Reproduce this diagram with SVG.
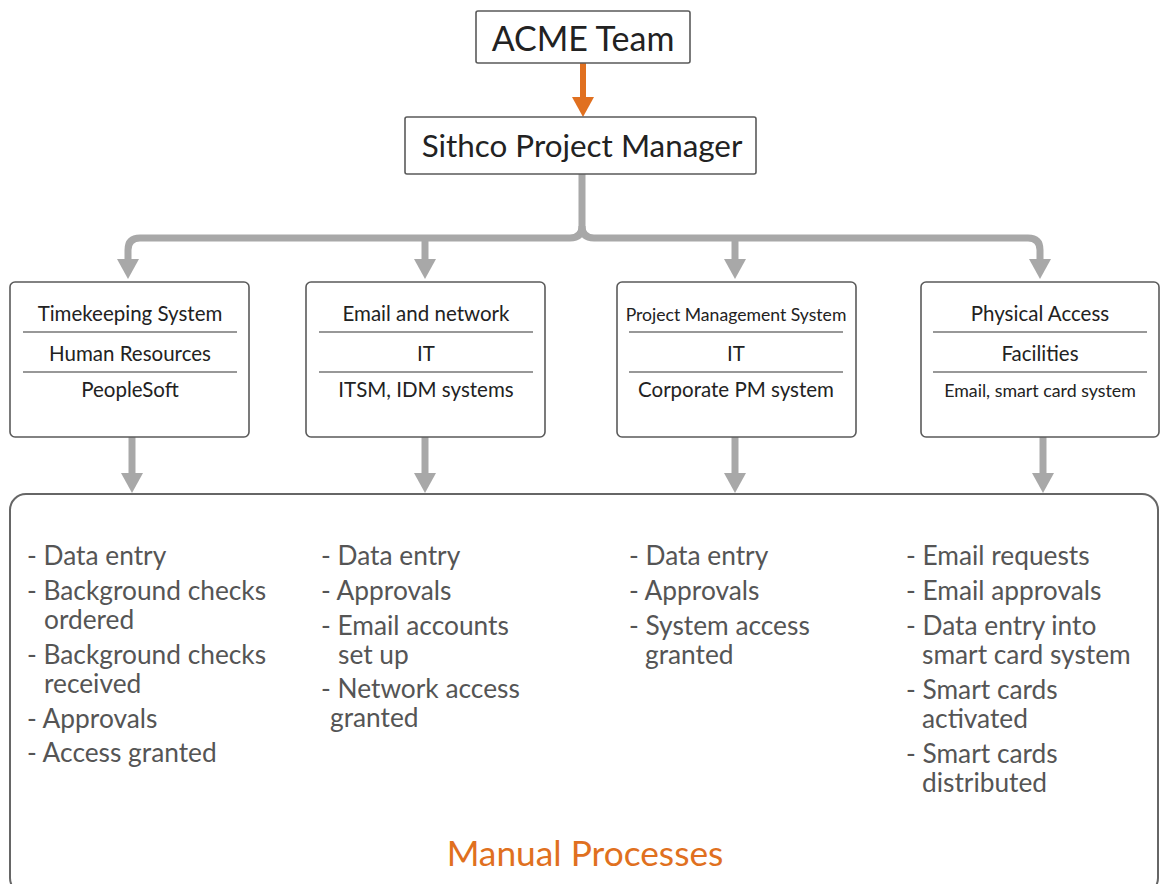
<svg xmlns="http://www.w3.org/2000/svg" width="1160" height="884" viewBox="0 0 1160 884">
<defs>
<style>
.box{fill:#fff;stroke:#5a5a5a;stroke-width:1.6}
.t{font-family:Lato,"Open Sans",sans-serif;fill:#222;text-anchor:middle}
.sep{stroke:#333;stroke-width:1.2}
.gray{fill:none;stroke:#a8a8a8;stroke-width:7}
.li{font-family:Lato,"Open Sans",sans-serif;fill:#555;font-size:26.3px}
</style>
<marker id="ga" viewBox="0 0 20 22" markerUnits="userSpaceOnUse" markerWidth="20" markerHeight="22" refX="0" refY="11" orient="auto"><path d="M0,0 L20,11 L0,22 z" fill="#a8a8a8"/></marker>
<marker id="oa" viewBox="0 0 20 22" markerUnits="userSpaceOnUse" markerWidth="20" markerHeight="22" refX="0" refY="11" orient="auto"><path d="M0,0 L20,11 L0,22 z" fill="#e07020"/></marker>
</defs>
<rect width="1160" height="884" fill="#fff"/>

<g id="connectors">
<line x1="583" y1="63" x2="583" y2="97" stroke="#e07020" stroke-width="6" marker-end="url(#oa)"/>
<path class="gray" d="M582,174 V226 Q582,238 570,238 H140 Q128,238 128,250 V259" marker-end="url(#ga)"/>
<path class="gray" d="M582,226 Q582,238 594,238 H1028 Q1040,238 1040,250 V259" marker-end="url(#ga)"/>
<path class="gray" d="M425,238 V259" marker-end="url(#ga)"/>
<path class="gray" d="M735,238 V259" marker-end="url(#ga)"/>
<path class="gray" d="M132,437 V473" marker-end="url(#ga)"/>
<path class="gray" d="M425,437 V473" marker-end="url(#ga)"/>
<path class="gray" d="M735,437 V473" marker-end="url(#ga)"/>
<path class="gray" d="M1043,437 V473" marker-end="url(#ga)"/>
</g>

<g id="acme">
<rect class="box" x="476" y="11" width="214" height="52" rx="2"/>
<text class="t" x="583" y="51" font-size="34">ACME Team</text>
</g>

<g id="sithco">
<rect class="box" x="405" y="117" width="351" height="57" rx="2"/>
<text class="t" x="582" y="157" font-size="31.4">Sithco Project Manager</text>
</g>

<g id="timekeeping">
<rect class="box" x="10" y="282" width="239" height="155" rx="5"/>
<text class="t" x="130" y="321" font-size="20.5">Timekeeping System</text>
<line class="sep" x1="23" y1="332" x2="237" y2="332"/>
<text class="t" x="130" y="361" font-size="20.5">Human Resources</text>
<line class="sep" x1="23" y1="372" x2="237" y2="372"/>
<text class="t" x="130" y="397" font-size="20.5">PeopleSoft</text>
</g>

<g id="email">
<rect class="box" x="306" y="282" width="239" height="155" rx="5"/>
<text class="t" x="426" y="321" font-size="20.5">Email and network</text>
<line class="sep" x1="319" y1="332" x2="533" y2="332"/>
<text class="t" x="426" y="361" font-size="20.5">IT</text>
<line class="sep" x1="319" y1="372" x2="533" y2="372"/>
<text class="t" x="426" y="397" font-size="20.5">ITSM, IDM systems</text>
</g>

<g id="pms">
<rect class="box" x="617" y="282" width="239" height="155" rx="5"/>
<text class="t" x="736" y="321" font-size="17.6">Project Management System</text>
<line class="sep" x1="629" y1="332" x2="843" y2="332"/>
<text class="t" x="736" y="361" font-size="20.5">IT</text>
<line class="sep" x1="629" y1="372" x2="843" y2="372"/>
<text class="t" x="736" y="397" font-size="20.5">Corporate PM system</text>
</g>

<g id="physical">
<rect class="box" x="921" y="282" width="238" height="155" rx="5"/>
<text class="t" x="1040" y="321" font-size="20.5">Physical Access</text>
<line class="sep" x1="933" y1="332" x2="1147" y2="332"/>
<text class="t" x="1040" y="361" font-size="20.5">Facilities</text>
<line class="sep" x1="933" y1="372" x2="1147" y2="372"/>
<text class="t" x="1040" y="397" font-size="17.8">Email, smart card system</text>
</g>

<g id="manual">
<rect x="10" y="494" width="1148" height="400" rx="16" fill="#fff" stroke="#666" stroke-width="2"/>
<text class="li" x="27" y="565">- Data entry</text>
<text class="li" x="27" y="600">- Background checks<tspan x="44" y="629">ordered</tspan></text>
<text class="li" x="27" y="664">- Background checks<tspan x="44" y="693">received</tspan></text>
<text class="li" x="27" y="728">- Approvals</text>
<text class="li" x="27" y="762">- Access granted</text>

<text class="li" x="321" y="565">- Data entry</text>
<text class="li" x="321" y="600">- Approvals</text>
<text class="li" x="321" y="635">- Email accounts<tspan x="338" y="664">set up</tspan></text>
<text class="li" x="321" y="698">- Network access<tspan x="330" y="727">granted</tspan></text>

<text class="li" x="629" y="565">- Data entry</text>
<text class="li" x="629" y="600">- Approvals</text>
<text class="li" x="629" y="635">- System access<tspan x="645" y="664">granted</tspan></text>

<text class="li" x="906" y="565">- Email requests</text>
<text class="li" x="906" y="600">- Email approvals</text>
<text class="li" x="906" y="635">- Data entry into<tspan x="922" y="664">smart card system</tspan></text>
<text class="li" x="906" y="699">- Smart cards<tspan x="922" y="728">activated</tspan></text>
<text class="li" x="906" y="763">- Smart cards<tspan x="922" y="792">distributed</tspan></text>

<text x="585" y="866" font-family="Lato,'Open Sans',sans-serif" font-size="35.3" fill="#e07020" text-anchor="middle">Manual Processes</text>
</g>
</svg>
